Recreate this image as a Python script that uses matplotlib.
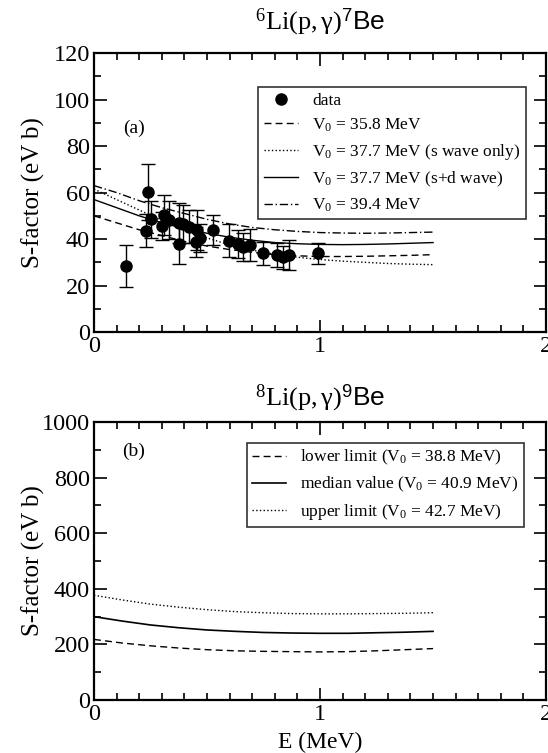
import numpy as np
import matplotlib
matplotlib.use('Agg')
import matplotlib.pyplot as plt
from matplotlib.ticker import MultipleLocator

plt.rcParams['font.family'] = 'Liberation Serif'
plt.rcParams['mathtext.fontset'] = 'custom'
plt.rcParams['mathtext.rm'] = 'Liberation Serif'
plt.rcParams['mathtext.it'] = 'Liberation Serif:italic'
plt.rcParams['mathtext.sf'] = 'Liberation Sans'

# panel (a): 6Li(p,g)7Be data
e_data = [0.140, 0.240, 0.230, 0.251, 0.300, 0.310, 0.330, 0.378, 0.378, 0.395, 0.422, 0.457,
          0.451, 0.469, 0.528, 0.599, 0.639, 0.661, 0.688, 0.747, 0.809, 0.838, 0.861, 0.991]
s_data = [28.4, 60.3, 43.6, 48.5, 45.6, 50.3, 48.2, 47.0, 37.8, 46.5, 45.3, 43.9,
          38.8, 40.6, 43.9, 39.3, 37.8, 36.4, 37.4, 33.8, 33.1, 32.1, 33.1, 33.8]
s_err = [9.1, 12.0, 7.0, 8.0, 6.0, 8.5, 8.0, 8.5, 8.5, 8.0, 7.0, 8.5,
         6.5, 6.0, 6.5, 7.0, 6.0, 6.0, 7.0, 5.0, 5.0, 5.0, 6.5, 4.7]

# panel (a) model curves
e_curve_a = [0.0, 0.1, 0.2, 0.3, 0.4, 0.5, 0.6, 0.7, 0.8, 0.9, 1.0, 1.1, 1.2, 1.3, 1.4, 1.5]
s_v358 = [50.0, 47.0, 44.0, 41.5, 39.0, 37.0, 35.5, 34.3, 33.3, 32.8, 32.5, 32.5, 32.6, 32.8, 33.0, 33.3]
s_v377_s = [61.5, 57.0, 52.5, 48.0, 44.0, 40.5, 37.5, 35.2, 33.5, 32.2, 31.2, 30.5, 30.0, 29.5, 29.2, 29.0]
s_v377_sd = [57.0, 53.5, 50.0, 47.0, 44.5, 42.5, 40.8, 39.5, 38.5, 38.0, 37.7, 37.6, 37.7, 37.9, 38.2, 38.5]
s_v394 = [63.0, 60.0, 56.5, 53.5, 51.0, 48.5, 46.5, 45.0, 44.0, 43.3, 42.8, 42.6, 42.5, 42.6, 42.8, 43.0]

# panel (b): 8Li(p,g)9Be model curves
e_curve_b = [0.0, 0.125, 0.25, 0.375, 0.5, 0.625, 0.75, 0.875, 1.0, 1.125, 1.25, 1.375, 1.5]
s_lower = [218, 205, 195, 187, 181, 177, 175, 174, 173, 174, 177, 181, 185]
s_median = [300, 284, 270, 260, 252, 247, 243, 241, 240, 240, 242, 244, 247]
s_upper = [377, 360, 345, 334, 325, 318, 314, 311, 310, 310, 311, 312, 314]

fig = plt.figure(figsize=(5.48, 7.53), dpi=100)
ax1 = fig.add_axes([0.1715, 0.559, 0.825, 0.3705])
ax2 = fig.add_axes([0.1715, 0.0704, 0.825, 0.369])


def style_axes(ax, ymax, ymajor, yminor):
    ax.set_xlim(0, 2)
    ax.set_ylim(0, ymax)
    ax.xaxis.set_major_locator(MultipleLocator(1))
    ax.xaxis.set_minor_locator(MultipleLocator(0.1))
    ax.yaxis.set_major_locator(MultipleLocator(ymajor))
    ax.yaxis.set_minor_locator(MultipleLocator(yminor))
    ax.tick_params(which='both', direction='in', top=True, right=True, width=1.2,
                   labelsize=17.5, pad=3)
    ax.tick_params(which='major', length=9)
    ax.tick_params(which='minor', length=5)
    for sp in ax.spines.values():
        sp.set_linewidth(1.6)
    # both panels share the same label column
    ax.set_ylabel('S-factor (eV b)', fontsize=18)
    ax.yaxis.set_label_coords(-0.108, 0.5)


# top panel
ax1.errorbar(e_data, s_data, yerr=s_err, fmt='none', ecolor='k', capsize=5,
             elinewidth=1.0, capthick=1.0, zorder=3)
ax1.plot(e_data, s_data, 'o', color='k', ms=8, ls='none', label='data', zorder=4)
ax1.plot(e_curve_a, s_v358, 'k--', lw=1.0, dashes=(5, 3), label=r'V$_0$ = 35.8 MeV')
ax1.plot(e_curve_a, s_v377_s, 'k:', lw=1.0, label=r'V$_0$ = 37.7 MeV (s wave only)')
ax1.plot(e_curve_a, s_v377_sd, 'k-', lw=1.0, label=r'V$_0$ = 37.7 MeV (s+d wave)')
ax1.plot(e_curve_a, s_v394, 'k-.', lw=1.0, dashes=(6, 2, 1, 2), label=r'V$_0$ = 39.4 MeV')
style_axes(ax1, 120, 20, 10)
leg1 = ax1.legend(loc='upper right', bbox_to_anchor=(0.955, 0.877), fontsize=12.5,
                  frameon=True, fancybox=False, edgecolor='k', handlelength=2.0,
                  borderpad=0.3, labelspacing=0.45, handletextpad=0.8, borderaxespad=0)
leg1.get_frame().set_linewidth(1.2)
ax1.text(0.088, 0.73, '(a)', transform=ax1.transAxes, fontsize=14, ha='center', va='center')
ax1.set_title(r'$^{6}\mathrm{Li(p,\gamma)}^{\mathsf{7}}\mathsf{Be}$', fontsize=19, pad=17)

# bottom panel
ax2.plot(e_curve_b, s_lower, 'k--', lw=1.0, dashes=(5, 3), label=r'lower limit (V$_0$ = 38.8 MeV)')
ax2.plot(e_curve_b, s_median, 'k-', lw=1.2, label=r'median value (V$_0$ = 40.9 MeV)')
ax2.plot(e_curve_b, s_upper, 'k:', lw=1.0, label=r'upper limit (V$_0$ = 42.7 MeV)')
style_axes(ax2, 1000, 200, 100)
leg2 = ax2.legend(loc='upper right', bbox_to_anchor=(0.951, 0.925), fontsize=12.5,
                  frameon=True, fancybox=False, edgecolor='k', handlelength=2.0,
                  borderpad=0.3, labelspacing=0.45, handletextpad=0.8, borderaxespad=0)
leg2.get_frame().set_linewidth(1.2)
ax2.text(0.088, 0.896, '(b)', transform=ax2.transAxes, fontsize=14, ha='center', va='center')
ax2.set_title(r'$^{8}\mathrm{Li(p,\gamma)}^{\mathsf{9}}\mathsf{Be}$', fontsize=19, pad=12)
ax2.set_xlabel('E (MeV)', fontsize=17, labelpad=5)

fig.savefig('out.png', dpi=100)
